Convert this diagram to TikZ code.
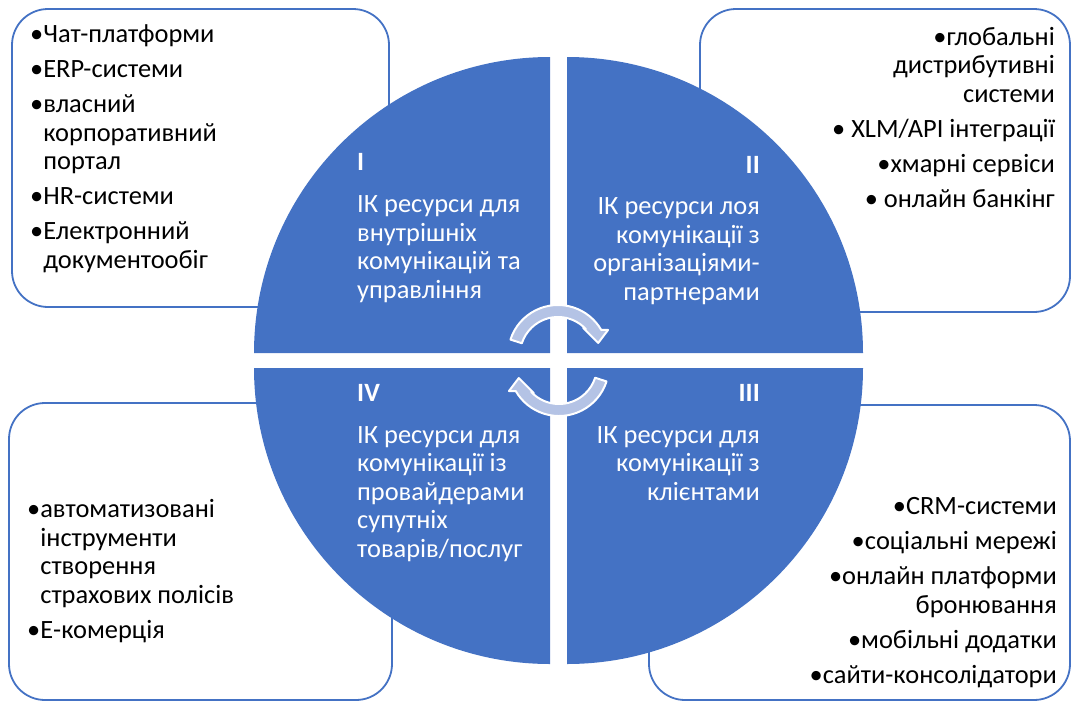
\documentclass[tikz,border=0pt]{standalone}
\usepackage{fontspec}
\setmainfont{Carlito}
\usetikzlibrary{calc}
\definecolor{quadblue}{HTML}{4472C4}
\definecolor{arrowfill}{HTML}{B4C3E5}
\newcommand{\ind}{\phantom{•}}
% circular arrow: centre x, centre y, turn
\newcommand{\cyclearrow}[3]{%
  \draw[cyc] ($(#1,#2)+(162+#3:50pt)$) arc[start angle=162+#3, end angle=30+#3, radius=50pt]
    -- ($(#1,#2)+(26.6+#3:56pt)$) -- ($(#1,#2)+(16.7+#3:42pt)$) -- ($(#1,#2)+(47+#3:37pt)$)
    -- ($(#1,#2)+(43+#3:38pt)$) arc[start angle=43+#3, end angle=162+#3, radius=38pt] -- cycle;}
\begin{document}
\begin{tikzpicture}[x=1pt, y=-1pt,
    listbox/.style={draw=quadblue, line width=1.8pt, rounded corners=36pt, fill=white, inner sep=0pt},
    listtext/.style={inner sep=0pt, font=\fontsize{26.4}{28.5}\selectfont},
    quadtext/.style={inner sep=0pt, text=white, font=\fontsize{26.4}{28.5}\selectfont},
    quad/.style={fill=quadblue},
    cyc/.style={fill=arrowfill, draw=white, line width=2pt, line join=round}]
  \useasboundingbox (0,0) rectangle (1072,702);

  % Outer boxes with the lists
  \node[listbox, minimum width=377pt, minimum height=298pt] (boxI) at (200.5,158) {};
  \node[listbox, minimum width=370pt, minimum height=303pt] (boxII) at (885,160.5) {};
  \node[listbox, minimum width=383pt, minimum height=297pt] (boxIV) at (200.5,551.5) {};
  \node[listbox, minimum width=421pt, minimum height=295pt] (boxIII) at (859.5,552.5) {};

  % Four quarters of the circle
  \fill[quad] (550,353) -- (254,353) arc[start angle=180, end angle=90, radius=296pt] -- cycle;
  \fill[quad] (567,353) -- (567,57) arc[start angle=90, end angle=0, radius=296pt] -- cycle;
  \fill[quad] (567,368) -- (863,368) arc[start angle=0, end angle=-90, radius=296pt] -- cycle;
  \fill[quad] (550,368) -- (550,664) arc[start angle=270, end angle=180, radius=296pt] -- cycle;

  % Arrows in the middle
  \cyclearrow{558}{355}{0}
  \cyclearrow{559}{366}{180}

  % Quarter titles (anchored at the last line)
  \node[quadtext, anchor=base west, align=left] (quadI) at (357,298)
    {\textbf{I}\\[13.5pt]ІК ресурси для\\внутрішніх\\комунікацій та\\управління};
  \node[quadtext, anchor=base east, align=right] (quadII) at (760,300)
    {\textbf{II}\\[13pt]ІК ресурси лоя\\комунікації з\\організаціями-\\партнерами};
  \node[quadtext, anchor=base east, align=right] (quadIII) at (760,500)
    {\textbf{III}\\[13.5pt]ІК ресурси для\\комунікації з\\клієнтами};
  \node[quadtext, anchor=base west, align=left] (quadIV) at (357,557)
    {\textbf{IV}\\[13.5pt]ІК ресурси для\\комунікації із\\провайдерами\\супутніх\\товарів/послуг};

  % Lists
  \node[listtext, anchor=base west, align=left] (listI) at (30,268)
    {•Чат-платформи\\[6.5pt]•ERP-системи\\[6.5pt]•власний\\\ind корпоративний\\\ind портал\\[6.5pt]•HR-системи\\[6.5pt]•Електронний\\\ind документообіг};
  \node[listtext, anchor=base east, align=right] (listII) at (1055,207)
    {•глобальні\\дистрибутивні\\системи\\[6.5pt]• XLM/API інтеграції\\[6.5pt]•хмарні сервіси\\[6.5pt]• онлайн банкінг};
  \node[listtext, anchor=base west, align=left] (listIV) at (27,638)
    {•автоматизовані\\\ind інструменти\\\ind створення\\\ind страхових полісів\\[6.5pt]•Е-комерція};
  \node[listtext, anchor=base east, align=right] (listIII) at (1057,683)
    {•CRM-системи\\[6.5pt]•соціальні мережі\\[6.5pt]•онлайн платформи\\бронювання\\[6.5pt]•мобільні додатки\\[6.5pt]•сайти-консолідатори};
\end{tikzpicture}
\end{document}
